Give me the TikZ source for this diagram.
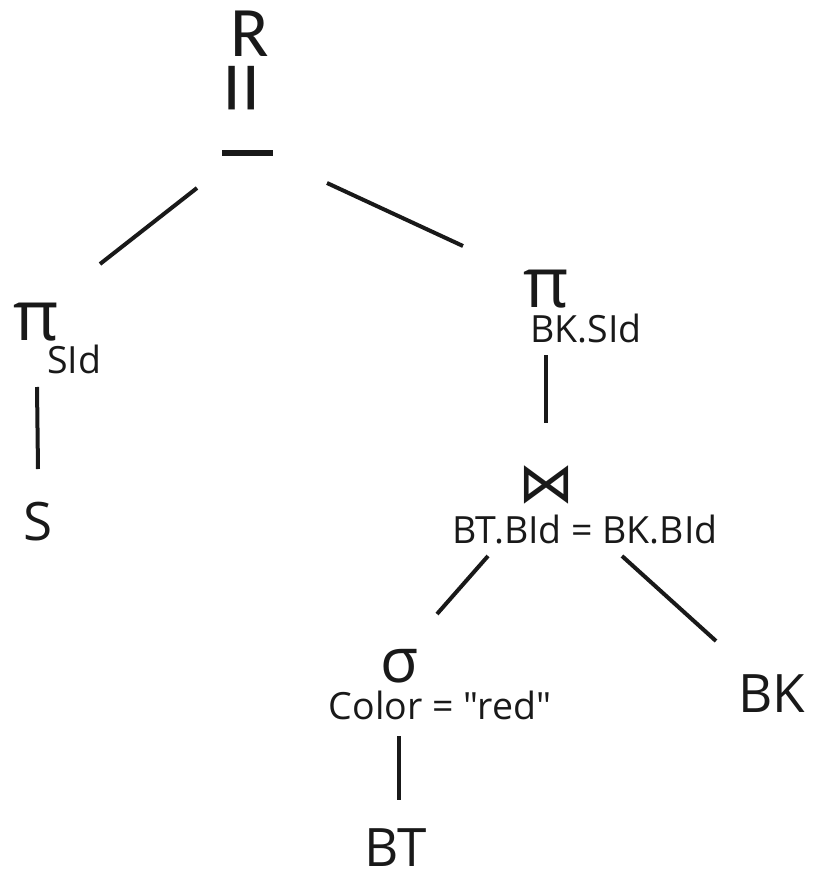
\documentclass[tikz,border=0pt]{standalone}
\usepackage{fontspec}
\setmainfont{Open Sans}[Ligatures=TeXOff]
\newfontfamily\rfont{Carlito}
\newfontfamily\symfont{DejaVu Sans}
\begin{document}
\begin{tikzpicture}[x=1pt,y=-1pt,
  lbl/.style={inner sep=0pt,anchor=base,text=black!90},
  big/.style={lbl,font=\fontsize{53}{53}\selectfont},
  sub/.style={lbl,font=\fontsize{37.5}{37.5}\selectfont},
  op/.style={lbl,font=\fontsize{70}{70}\selectfont},
  edge/.style={line width=4pt,black!90}]
\useasboundingbox (0,0) rectangle (813,877);
% root
\node[lbl,font=\rfont\fontsize{71}{71}\selectfont] (R) at (250,57) {R};
\node[lbl,anchor=center,rotate=90,font=\fontsize{96}{96}\selectfont] (eq) at (252,88.5) {=};
\coordinate (minusL) at (222,153);
\coordinate (minusR) at (273,153);
\draw[line width=6pt,black!90] (minusL) -- (minusR);
% left branch
\node[op,anchor=base west] (piL) at (13,340) {π};
\node[sub,anchor=base west] (piLsub) at (47,373) {SId};
\node[big] (S) at (38,540) {S};
% right branch
\node[op] (piR) at (546,307) {π};
\node[sub] (piRsub) at (586,342) {BK.SId};
\node[lbl,font=\symfont\fontsize{56}{56}\selectfont] (join) at (546,502) {⋈};
\node[sub] (joinsub) at (585,543) {BT.BId = BK.BId};
\node[lbl,font=\fontsize{62}{62}\selectfont] (sigma) at (399,682) {σ};
\node[sub] (sigmasub) at (440,719) {Color = "red"};
\node[big] (BK) at (772,712) {BK};
\node[big] (BT) at (396,866) {BT};
% connector ends
\coordinate (a1) at (197,188); \coordinate (a2) at (100,264);
\coordinate (b1) at (327,183); \coordinate (b2) at (463,246);
\coordinate (c1) at (37,387);  \coordinate (c2) at (38,469);
\coordinate (d1) at (546,355); \coordinate (d2) at (546,423);
\coordinate (e1) at (488,556); \coordinate (e2) at (437,614);
\coordinate (f1) at (622,556); \coordinate (f2) at (716,641);
\coordinate (g1) at (399,736); \coordinate (g2) at (399,800);
\draw[edge] (a1) -- (a2);
\draw[edge] (b1) -- (b2);
\draw[edge] (c1) -- (c2);
\draw[edge] (d1) -- (d2);
\draw[edge] (e1) -- (e2);
\draw[edge] (f1) -- (f2);
\draw[edge] (g1) -- (g2);
\end{tikzpicture}
\end{document}
